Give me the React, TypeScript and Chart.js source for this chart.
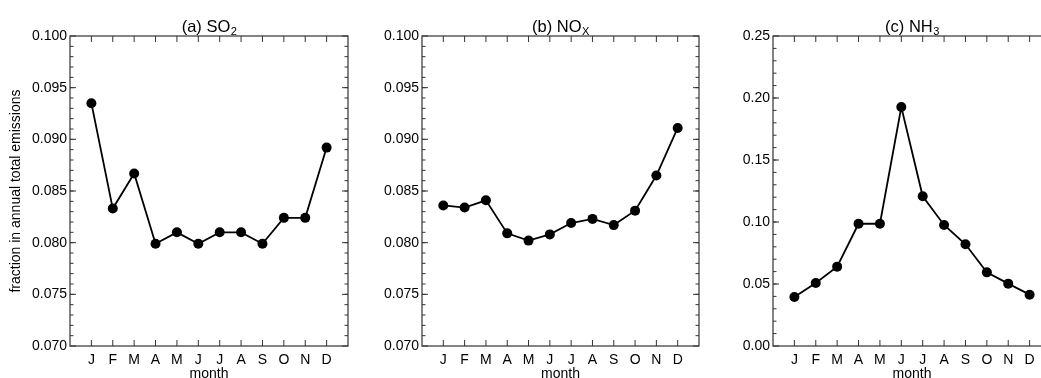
import React, { useEffect, useRef } from "react";
import { Chart, registerables } from "chart.js";

Chart.register(...registerables);

const MONTHS = ["J", "F", "M", "A", "M", "J", "J", "A", "S", "O", "N", "D"];
const SO2 = [0.0935, 0.0833, 0.0867, 0.0799, 0.081, 0.0799, 0.081, 0.081, 0.0799, 0.0824, 0.0824, 0.0892];
const NOX = [0.0836, 0.0834, 0.0841, 0.0809, 0.0802, 0.0808, 0.0819, 0.0823, 0.0817, 0.0831, 0.0865, 0.0911];
const NH3 = [0.0395, 0.0508, 0.064, 0.0986, 0.0986, 0.1927, 0.1207, 0.0976, 0.082, 0.0594, 0.0503, 0.0414];
const Y_TICKS_AB = [0.07, 0.075, 0.08, 0.085, 0.09, 0.095, 0.1];
const Y_TICKS_C = [0.0, 0.05, 0.1, 0.15, 0.2, 0.25];
const Y_TITLE = "fraction in annual total emissions";
const X_TITLE = "month";

const FONT = '"Liberation Sans", Arial, Helvetica, sans-serif';
const CANVAS_H = 390;
const AREA_TOP = 36;
const AREA_BOTTOM = 346;

type Panel = {
  titleMain: string;
  titleSub: string;
  values: number[];
  yMin: number;
  yMax: number;
  yTicks: number[];
  minorStep: number;
  decimals: number;
  canvasLeft: number;
  canvasWidth: number;
  areaLeft: number;
  areaRight: number;
  yTitle: string | null;
};

const PANELS: Panel[] = [
  { titleMain: "(a) SO", titleSub: "2", values: SO2, yMin: 0.07, yMax: 0.1, yTicks: Y_TICKS_AB, minorStep: 0.001, decimals: 3, canvasLeft: 0, canvasWidth: 360, areaLeft: 70, areaRight: 348, yTitle: Y_TITLE },
  { titleMain: "(b) NO", titleSub: "X", values: NOX, yMin: 0.07, yMax: 0.1, yTicks: Y_TICKS_AB, minorStep: 0.001, decimals: 3, canvasLeft: 360, canvasWidth: 350, areaLeft: 62, areaRight: 339, yTitle: null },
  { titleMain: "(c) NH", titleSub: "3", values: NH3, yMin: 0, yMax: 0.25, yTicks: Y_TICKS_C, minorStep: 0.01, decimals: 2, canvasLeft: 710, canvasWidth: 360, areaLeft: 63, areaRight: 341, yTitle: null },
];

function PanelChart({ p }: { p: Panel }) {
  const ref = useRef<HTMLCanvasElement | null>(null);
  useEffect(() => {
    if (!ref.current) return;
    const framePlugin = {
      id: "frame",
      afterDraw(chart: any) {
        const { ctx, chartArea } = chart;
        const { left, right, top, bottom } = chartArea;
        const xs = chart.scales.x;
        const ys = chart.scales.y;
        ctx.save();
        ctx.strokeStyle = "#333";
        ctx.lineWidth = 1.2;
        ctx.strokeRect(left, top, right - left, bottom - top);
        ctx.lineWidth = 1;
        ctx.beginPath();
        p.yTicks.forEach((v) => {
          const y = ys.getPixelForValue(v);
          ctx.moveTo(left, y);
          ctx.lineTo(left + 6, y);
          ctx.moveTo(right, y);
          ctx.lineTo(right - 6, y);
        });
        const n = Math.round((p.yMax - p.yMin) / p.minorStep);
        for (let i = 1; i < n; i++) {
          const v = p.yMin + i * p.minorStep;
          const y = ys.getPixelForValue(v);
          ctx.moveTo(left, y);
          ctx.lineTo(left + 3.5, y);
          ctx.moveTo(right, y);
          ctx.lineTo(right - 3.5, y);
        }
        MONTHS.forEach((_, i) => {
          const x = xs.getPixelForValue(i);
          ctx.moveTo(x, bottom);
          ctx.lineTo(x, bottom - 6);
          ctx.moveTo(x, top);
          ctx.lineTo(x, top + 6);
        });
        ctx.stroke();
        const cx = (left + right) / 2;
        ctx.fillStyle = "#000";
        ctx.textBaseline = "alphabetic";
        ctx.textAlign = "left";
        const mainFont = `16.5px ${FONT}`;
        const subFont = `11px ${FONT}`;
        ctx.font = mainFont;
        const wm = ctx.measureText(p.titleMain).width;
        ctx.font = subFont;
        const ws = ctx.measureText(p.titleSub).width;
        const x0 = cx - (wm + ws) / 2;
        ctx.font = mainFont;
        ctx.fillText(p.titleMain, x0, 31.5);
        ctx.font = subFont;
        ctx.fillText(p.titleSub, x0 + wm + 0.5, 35);
        ctx.restore();
      },
    };

    const chart = new Chart(ref.current, {
      type: "line",
      data: {
        datasets: [
          {
            data: p.values.map((v, i) => ({ x: i, y: v })),
            borderColor: "#000",
            borderWidth: 1.8,
            pointRadius: 5,
            pointBackgroundColor: "#000",
            pointBorderWidth: 0,
            pointHoverRadius: 5,
            tension: 0,
          },
        ],
      },
      options: {
        animation: false,
        responsive: false,
        events: [],
        layout: { padding: { top: AREA_TOP, right: p.canvasWidth - p.areaRight, left: 0, bottom: 0 } },
        plugins: { legend: { display: false }, tooltip: { enabled: false }, title: { display: false } },
        scales: {
          x: {
            type: "linear",
            min: -1,
            max: 12,
            grid: { display: false, drawTicks: false },
            border: { display: false },
            afterBuildTicks: (scale: any) => {
              scale.ticks = MONTHS.map((_, i) => ({ value: i }));
            },
            afterFit: (scale: any) => {
              scale.height = CANVAS_H - AREA_BOTTOM;
            },
            ticks: {
              padding: 6,
              maxRotation: 0,
              autoSkip: false,
              color: "#000",
              font: { family: FONT, size: 14 },
              callback: (v: any) => MONTHS[Number(v)] ?? "",
            },
            title: {
              display: true,
              text: X_TITLE,
              color: "#000",
              font: { family: FONT, size: 14 },
              padding: { top: 0, bottom: 7 },
            },
          },
          y: {
            type: "linear",
            min: p.yMin,
            max: p.yMax,
            grid: { display: false, drawTicks: false },
            border: { display: false },
            afterBuildTicks: (scale: any) => {
              scale.ticks = p.yTicks.map((v) => ({ value: v }));
            },
            afterFit: (scale: any) => {
              scale.width = p.areaLeft;
            },
            ticks: {
              padding: 3,
              autoSkip: false,
              color: "#000",
              font: { family: FONT, size: 14 },
              callback: (v: any) => Number(v).toFixed(p.decimals),
            },
            title: {
              display: !!p.yTitle,
              text: p.yTitle || "",
              color: "#000",
              font: { family: FONT, size: 14 },
              padding: { top: 7.5, bottom: 0 },
            },
          },
        },
      },
      plugins: [framePlugin],
    } as any);
    return () => chart.destroy();
  }, [p]);

  return (
    <canvas
      ref={ref}
      width={p.canvasWidth}
      height={CANVAS_H}
      style={{ position: "absolute", left: p.canvasLeft, top: 0, width: p.canvasWidth, height: CANVAS_H }}
    />
  );
}

export default function App() {
  return (
    <div
      style={{
        position: "fixed",
        left: 0,
        top: 0,
        width: 1041,
        height: 378,
        overflow: "hidden",
        background: "#fff",
      }}
    >
      {PANELS.map((p, i) => (
        <PanelChart key={i} p={p} />
      ))}
    </div>
  );
}
